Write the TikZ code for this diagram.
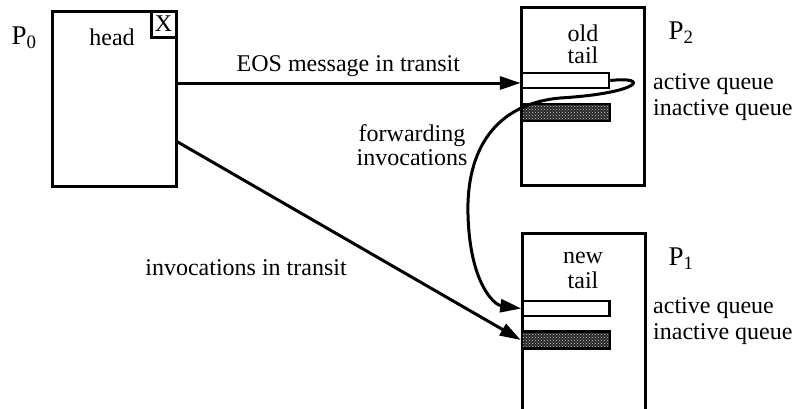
\documentclass[tikz,border=0pt]{standalone}
\usepackage{fontspec}
\setmainfont{Liberation Serif}
\usepackage{tikz}
\usetikzlibrary{arrows.meta,patterns,positioning}

\begin{document}
\begin{tikzpicture}[x=1pt,y=-1pt]
	\tikzstyle{Proc}	= [draw, line width=3pt, fill=white, inner sep=0pt]
	\tikzstyle{Active}	= [draw, line width=2.5pt, fill=white, minimum width=87pt, minimum height=15pt, inner sep=0pt]
	\tikzstyle{Inactive}	= [draw, line width=2.5pt, preaction={fill=black!85}, pattern=crosshatch dots, pattern color=white!80!black, minimum width=88pt, minimum height=17pt, inner sep=0pt]
	\tikzstyle{Txt}		= [font=\fontsize{24}{26}\selectfont, inner sep=0pt]
	\tikzstyle{PLabel}	= [font=\fontsize{27}{28}\selectfont, inner sep=0pt]
	\tikzstyle{Msg}		= [line width=3pt, -{Triangle[length=21pt,width=13pt]}]

	\useasboundingbox (0,0) rectangle (800,408);

	% processors
	\node (p0) at (114,98.5) [Proc, minimum width=124pt, minimum height=175pt] {};
	\node (p2) at (582.5,96) [Proc, minimum width=123pt, minimum height=178pt] {};
	\node (p1) at (583.5,330) [Proc, minimum width=123pt, minimum height=194pt] {};

	\node (x0) at (163.5,24) [Proc, minimum width=25pt, minimum height=26pt, Txt] {X};
	\node (head) at (112,37) [Txt] {head};
	\node (old) at (583,33) [Txt] {old};
	\node (oldtail) at (583,55) [Txt] {tail};
	\node (new) at (583,258) [Txt] {new};
	\node (newtail) at (583,280) [Txt] {tail};

	\node (lp0) at (24,38) [PLabel] {P$_{\mathrm{0}}$};
	\node (lp2) at (681,33) [PLabel] {P$_{\mathrm{2}}$};
	\node (lp1) at (681,259) [PLabel] {P$_{\mathrm{1}}$};

	% queues
	\node (a2) at (565.5,80.5) [Active] {};
	\node (i2) at (566,112.5) [Inactive] {};
	\node (a1) at (566,308.5) [Active] {};
	\node (i1) at (566,340) [Inactive] {};

	\node (ta2) at (653,84) [Txt, anchor=west] {active queue};
	\node (ti2) at (653,110) [Txt, anchor=west] {inactive queue};
	\node (ta1) at (653,308) [Txt, anchor=west] {active queue};
	\node (ti1) at (653,334) [Txt, anchor=west] {inactive queue};

	% messages
	\coordinate (eos) at (176,83);
	\coordinate (inv) at (176,141);
	\draw[Msg] (eos) -- (a2.west |- eos) node[midway, above=5pt, Txt] {EOS message in transit};
	\draw[Msg] (inv) -- (i1.west);
	\node (tinv) at (246,268) [Txt] {invocations in transit};

	\draw[Msg] (a2.east) .. controls (650,76) and (642,93) .. (560,98)
		.. controls (495,104) and (466,150) .. (468,215)
		.. controls (470,285) and (495,305) .. (a1.west);
	\node (fwd) at (412,136) [Txt] {forwarding};
	\node (fwdinv) at (412,158) [Txt] {invocations};
\end{tikzpicture}
\end{document}
